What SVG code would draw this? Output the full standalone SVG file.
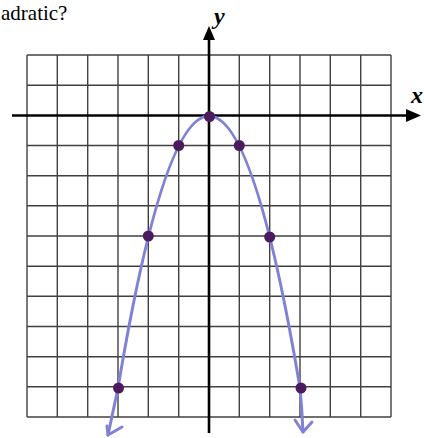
<svg xmlns="http://www.w3.org/2000/svg" width="424" height="438" viewBox="0 0 424 438">
<style>
.grid line{stroke:#404040;stroke-width:1.4}
.axis{stroke:#000;stroke-width:2.6;fill:none}
.head{fill:#000}
.curve{stroke:#7f82d6;stroke-width:3;fill:none;stroke-linecap:round;stroke-linejoin:round}
.pt{fill:#4b1b5e}
.lbl{font-family:"Liberation Serif","Times New Roman",serif;font-style:italic;font-weight:bold;font-size:24px;fill:#000}
.cap{font-family:"Liberation Serif","Times New Roman",serif;font-size:21px;fill:#000}
</style>
<rect width="424" height="438" fill="#fff"/>
<text class="cap" x="1" y="20" font-family="Liberation Serif, serif">adratic?</text>
<g id="grid" class="grid">
<line x1="27" y1="55" x2="27" y2="417"/>
<line x1="57.3" y1="55" x2="57.3" y2="417"/>
<line x1="87.7" y1="55" x2="87.7" y2="417"/>
<line x1="118" y1="55" x2="118" y2="417"/>
<line x1="148.3" y1="55" x2="148.3" y2="417"/>
<line x1="178.7" y1="55" x2="178.7" y2="417"/>
<line x1="239.3" y1="55" x2="239.3" y2="417"/>
<line x1="269.7" y1="55" x2="269.7" y2="417"/>
<line x1="300" y1="55" x2="300" y2="417"/>
<line x1="330.3" y1="55" x2="330.3" y2="417"/>
<line x1="360.7" y1="55" x2="360.7" y2="417"/>
<line x1="391" y1="55" x2="391" y2="417"/>
<line x1="27" y1="55" x2="391" y2="55"/>
<line x1="27" y1="85.2" x2="391" y2="85.2"/>
<line x1="27" y1="145.5" x2="391" y2="145.5"/>
<line x1="27" y1="175.7" x2="391" y2="175.7"/>
<line x1="27" y1="205.8" x2="391" y2="205.8"/>
<line x1="27" y1="236" x2="391" y2="236"/>
<line x1="27" y1="266.2" x2="391" y2="266.2"/>
<line x1="27" y1="296.3" x2="391" y2="296.3"/>
<line x1="27" y1="326.5" x2="391" y2="326.5"/>
<line x1="27" y1="356.7" x2="391" y2="356.7"/>
<line x1="27" y1="386.8" x2="391" y2="386.8"/>
<line x1="27" y1="417" x2="391" y2="417"/>
</g>
<g id="x-axis">
<line class="axis" x1="12" y1="115.5" x2="410" y2="115.5"/>
<polygon class="head" points="421,115.5 406,109 406,122"/>
<text class="lbl" x="411" y="103">x</text>
</g>
<g id="y-axis">
<line class="axis" x1="209" y1="433" x2="209" y2="38"/>
<polygon class="head" points="209,26 203,40 215,40"/>
<text class="lbl" x="214" y="24">y</text>
</g>
<g id="parabola">
<path class="curve" d="M108,435 L118,388 Q209,-156 300,388 Q302,410 303,432"/>
<path class="curve" d="M107,426 L108,435 L122,427"/>
<path class="curve" d="M295,420 L303,432 L312,422"/>
</g>
<g id="points">
<circle class="pt" cx="209.5" cy="116.5" r="5.5"/>
<circle class="pt" cx="178.7" cy="145.5" r="5.5"/>
<circle class="pt" cx="239.3" cy="145.5" r="5.5"/>
<circle class="pt" cx="148.3" cy="236" r="5.5"/>
<circle class="pt" cx="269.7" cy="237" r="5.5"/>
<circle class="pt" cx="118.5" cy="388" r="5.5"/>
<circle class="pt" cx="301" cy="388" r="5.5"/>
</g>
</svg>
